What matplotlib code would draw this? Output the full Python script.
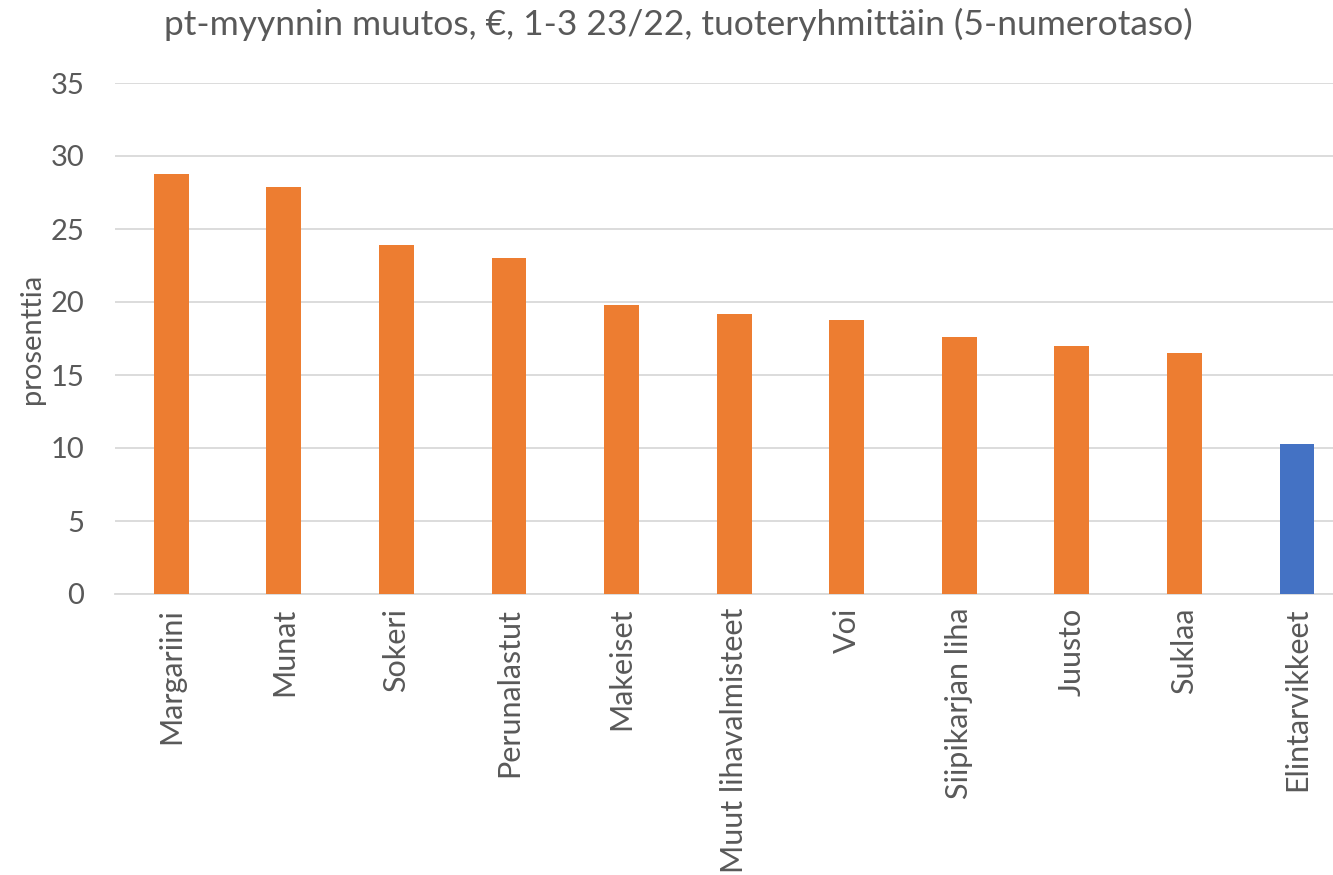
import matplotlib
matplotlib.use("Agg")
import matplotlib.pyplot as plt

categories = ["Margariini", "Munat", "Sokeri", "Perunalastut", "Makeiset",
              "Muut lihavalmisteet", "Voi", "Siipikarjan liha", "Juusto",
              "Suklaa", "Elintarvikkeet"]
values = [28.8, 27.9, 23.9, 23.0, 19.8, 19.2, 18.8, 17.6, 17.0, 16.5, 10.3]
colors = ["#ED7D31"] * 10 + ["#4472C4"]
title = "pt-myynnin muutos, €, 1-3 23/22, tuoteryhmittäin (5-numerotaso)"
ylabel = "prosenttia"
yticks = [0, 5, 10, 15, 20, 25, 30, 35]

plt.rcParams['font.family'] = ['Lato', 'DejaVu Sans']
text_color = "#595959"

fig = plt.figure(figsize=(13.33, 8.75), dpi=100)
ax = fig.add_axes([115/1333, 1 - 594/875, 1 - 115/1333, (594 - 83)/875])

x = list(range(len(categories)))
ax.bar(x, values, width=0.31, color=colors, zorder=3)

ax.set_xlim(-0.5, 10.32)
ax.set_ylim(0, 35)
ax.set_yticks(yticks)
ax.yaxis.grid(True, color="#D9D9D9", linewidth=1.3, zorder=0)
ax.set_axisbelow(True)
for s in ["top", "right", "left"]:
    ax.spines[s].set_visible(False)
ax.spines["bottom"].set_color("#D9D9D9")
ax.spines["bottom"].set_linewidth(1.3)

ax.set_xticks(x)
ax.set_xticklabels(categories, rotation=90, fontsize=22, color=text_color)
ax.tick_params(axis="x", length=0, pad=10)
ax.tick_params(axis="y", length=0, pad=22, labelsize=21, labelcolor=text_color)

ax.set_ylabel(ylabel, fontsize=21, color=text_color, labelpad=4)
fig.text(0.509, 0.972, title, ha="center", va="center", fontsize=25.5, color=text_color)

fig.savefig("out.png", dpi=100)
